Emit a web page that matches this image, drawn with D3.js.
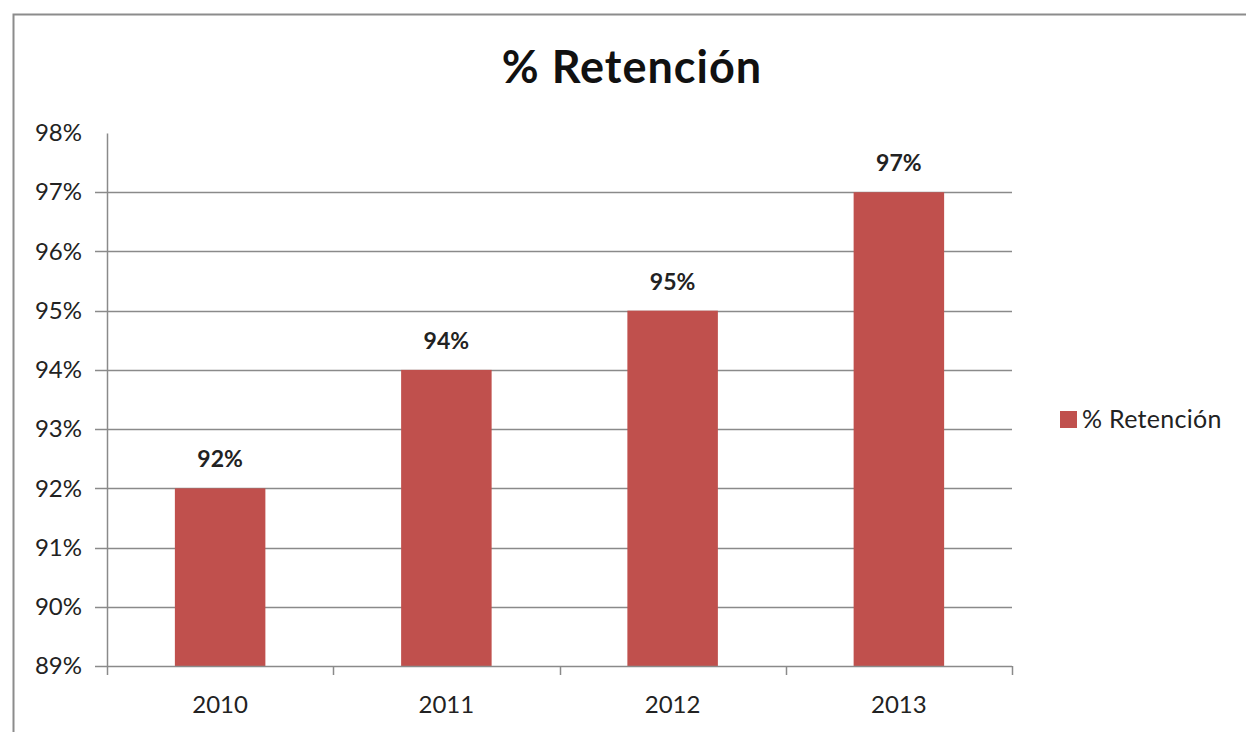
<!DOCTYPE html>
<html>
<head>
<meta charset="utf-8">
<script src="https://cdnjs.cloudflare.com/ajax/libs/d3/7.8.5/d3.min.js"></script>
<style>
body { margin: 0; background: #fff; }
svg { font-family: Lato, "Open Sans", sans-serif; }
</style>
</head>
<body>
<script>
var years = ["2010", "2011", "2012", "2013"];
var retencion = [0.92, 0.94, 0.95, 0.97];
var yTicks = [0.89, 0.90, 0.91, 0.92, 0.93, 0.94, 0.95, 0.96, 0.97, 0.98];
var seriesName = "% Retención";

var width = 1246, height = 732;
var plotLeft = 107, plotRight = 1012, plotTop = 133, plotBottom = 666;

var svg = d3.select("body").append("svg")
  .attr("width", width)
  .attr("height", height);

// chart border (right and bottom edges fall outside the picture)
svg.append("path")
  .attr("d", "M13.5," + height + "V14.5H" + width)
  .attr("fill", "none")
  .attr("stroke", "#8c8c8c")
  .attr("stroke-width", 2);

svg.append("text")
  .attr("x", 632)
  .attr("y", 83)
  .attr("text-anchor", "middle")
  .style("font-size", "45px")
  .style("font-weight", "bold")
  .style("letter-spacing", "1px")
  .attr("fill", "#111")
  .text(seriesName);

var x = d3.scaleBand()
  .domain(years)
  .range([plotLeft, plotRight])
  .paddingInner(0.6)
  .paddingOuter(0.3);

var y = d3.scaleLinear()
  .domain([0.89, 0.98])
  .range([plotBottom, plotTop]);

var pct = d3.format(".0%");

// gridlines
svg.append("g")
  .selectAll("line")
  .data(yTicks.filter(function(d) { return d > 0.895 && d < 0.975; }))
  .enter().append("line")
  .attr("x1", plotLeft - 12)
  .attr("x2", plotRight)
  .attr("y1", function(d) { return Math.round(y(d)) + 0.5; })
  .attr("y2", function(d) { return Math.round(y(d)) + 0.5; })
  .attr("stroke", "#8a8a8a")
  .attr("stroke-width", 1.5);

// y axis
var yAxis = svg.append("g")
  .attr("transform", "translate(" + plotLeft + ",0)")
  .call(d3.axisLeft(y).tickValues(yTicks).tickFormat(pct).tickSize(0).tickPadding(25));
yAxis.select(".domain").attr("stroke", "#8a8a8a").attr("stroke-width", 1.5);
yAxis.selectAll("text").style("font-size", "24px").attr("fill", "#222")
  .attr("font-family", "Lato, sans-serif");

// bars
svg.append("g")
  .selectAll("rect")
  .data(retencion)
  .enter().append("rect")
  .attr("x", function(d, i) { return x(years[i]); })
  .attr("width", x.bandwidth())
  .attr("y", function(d) { return y(d); })
  .attr("height", function(d) { return y(0.89) - y(d); })
  .attr("fill", "#c0504d");

// data labels
svg.append("g")
  .selectAll("text")
  .data(retencion)
  .enter().append("text")
  .attr("x", function(d, i) { return x(years[i]) + x.bandwidth() / 2; })
  .attr("y", function(d) { return y(d) - 21; })
  .attr("text-anchor", "middle")
  .style("font-size", "23px")
  .style("font-weight", "bold")
  .attr("fill", "#222")
  .text(function(d) { return pct(d); });

// x axis line and category ticks
svg.append("line")
  .attr("x1", plotLeft - 12).attr("x2", plotRight)
  .attr("y1", plotBottom + 0.5).attr("y2", plotBottom + 0.5)
  .attr("stroke", "#8a8a8a").attr("stroke-width", 1.5);

var step = x.step();
var bounds = [plotLeft].concat(years.map(function(d) { return x(d) - x.paddingInner() * step / 2 + step; }));
svg.append("g")
  .selectAll("line")
  .data(bounds)
  .enter().append("line")
  .attr("x1", function(d) { return Math.round(d) + 0.5; })
  .attr("x2", function(d) { return Math.round(d) + 0.5; })
  .attr("y1", plotBottom)
  .attr("y2", plotBottom + 9)
  .attr("stroke", "#8a8a8a").attr("stroke-width", 1.5);

svg.append("g")
  .selectAll("text")
  .data(years)
  .enter().append("text")
  .attr("x", function(d) { return x(d) + x.bandwidth() / 2; })
  .attr("y", 713)
  .attr("text-anchor", "middle")
  .style("font-size", "24px")
  .attr("fill", "#222")
  .text(function(d) { return d; });

// legend
var legend = svg.append("g").attr("transform", "translate(1060,411)");
legend.append("rect").attr("width", 17).attr("height", 17).attr("fill", "#c0504d");
legend.append("text")
  .attr("x", 22).attr("y", 17)
  .style("font-size", "25px")
  .style("letter-spacing", "0.3px")
  .attr("fill", "#222")
  .text(seriesName);
</script>
</body>
</html>
